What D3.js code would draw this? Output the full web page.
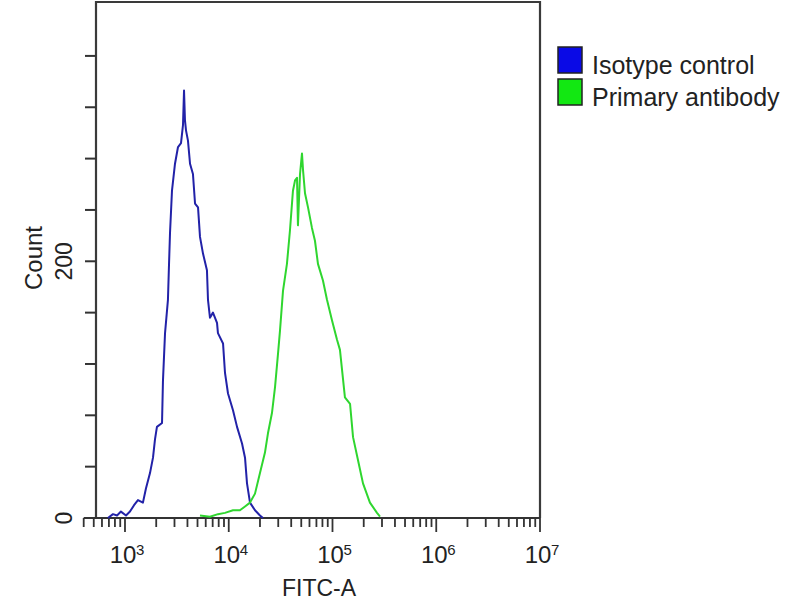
<!DOCTYPE html>
<html lang="en">
<head>
    <meta charset="utf-8" />
    <title>FITC-A histogram</title>
    <script src="https://d3js.org/d3.v7.min.js"></script>
    <style>
        body { margin: 0; background: #fff; }
        text { font-family: "Liberation Sans", Arial, sans-serif; fill: #222; }
    </style>
</head>
<body>
    <div id="graph"></div>
    <script>
        // series: FITC intensity / event count
        var isotypeFitc = [685, 766, 838, 914, 1023, 1117, 1222, 1334, 1489, 1592, 1742, 1862, 1945, 2032,
            2275, 2323, 2432, 2594, 2655, 2716, 2838, 3034, 3243, 3467, 3622, 3707, 3784, 3873, 4046,
            4236, 4519, 4732, 5058, 5284, 5649, 6166, 6310, 6592, 7047, 7709, 7870, 8810, 9204, 9840,
            10990, 12020, 13430, 14350, 15000, 16030, 17910, 20000, 21380];
        var isotypeCount = [0, 3, 2, 5, 2, 5, 10, 14, 12, 23, 35, 47, 61, 71,
            74, 107, 144, 170, 197, 222, 255, 276, 289, 292, 306, 333, 310, 302, 294,
            276, 268, 245, 242, 219, 206, 193, 170, 156, 160, 152, 144, 136, 113, 97,
            84, 71, 58, 47, 27, 12, 6, 2, 0];

        var primaryFitc = [5280, 6590, 7870, 9200, 10990, 12820, 14350, 16030, 17910, 20000, 22340,
            23880, 26120, 27930, 29850, 31190, 33340, 36390, 38900, 41590, 43550, 45500, 46450,
            48640, 50820, 52000, 54330, 58080, 63390, 67760, 72440, 80910, 88510, 98860, 110400,
            118000, 131800, 147600, 157800, 176200, 196800, 229600, 268500, 287100];
        var primaryCount = [2, 1, 3, 4, 6, 6, 9, 12, 19, 35, 51,
            66, 82, 102, 128, 146, 177, 198, 224, 255, 263, 265, 228,
            268, 284, 271, 253, 242, 226, 216, 198, 185, 170, 154, 139,
            131, 94, 89, 63, 45, 27, 12, 4, 1];

        var seriesNames = ["Isotype control", "Primary antibody"];
        var seriesColors = ["#2222a8", "#2fd62f"];
        var legendColors = ["#0a0ae6", "#12e812"];

        var decades = [3, 4, 5, 6, 7];
        var yTicks = [40, 80, 120, 160, 200, 240, 280, 320, 360];
        var yLabels = [0, 200];

        var width = 800, height = 600;
        var frameLeft = 96;
        var xMin = 400, xMax = 1e7, yMax = 402;

        var svg = d3.select("#graph").append("svg")
            .attr("width", width)
            .attr("height", height);

        var x = d3.scaleLog().domain([xMin, xMax]).range([83.7, 540]);
        var y = d3.scaleLinear().domain([0, yMax]).range([518, 2]);

        // frame
        svg.append("path")
            .attr("d", "M" + frameLeft + "," + y(0) + "V" + y(yMax) + "H" + x(xMax) + "V" + y(0))
            .attr("fill", "none")
            .attr("stroke", "#3a3a3a")
            .attr("stroke-width", 2.2);

        // x axis line (extends a little left of the frame)
        svg.append("line")
            .attr("x1", x(xMin)).attr("x2", x(xMax))
            .attr("y1", y(0)).attr("y2", y(0))
            .attr("stroke", "#333").attr("stroke-width", 2);

        // x ticks, log minor + major
        var xTickVals = [];
        for (var d = 2; d <= 6; d++) {
            for (var k = 1; k <= 9; k++) {
                var v = k * Math.pow(10, d);
                if (v >= xMin && v <= xMax) xTickVals.push(v);
            }
        }
        xTickVals.push(xMax);
        svg.selectAll(".xtick").data(xTickVals).enter()
            .append("line")
            .attr("class", "xtick")
            .attr("x1", function (v) { return x(v); })
            .attr("x2", function (v) { return x(v); })
            .attr("y1", y(0))
            .attr("y2", function (v) {
                var isMajor = Math.abs(Math.log10(v) - Math.round(Math.log10(v))) < 1e-9;
                return y(0) + (isMajor ? 14 : 9);
            })
            .attr("stroke", "#333").attr("stroke-width", 1.8);

        // decade labels
        var xl = svg.selectAll(".xlab").data(decades).enter().append("g").attr("class", "xlab");
        xl.append("text")
            .attr("x", function (e) { return x(Math.pow(10, e)) - 2; })
            .attr("y", 563)
            .attr("text-anchor", "middle")
            .attr("font-size", 24)
            .text("10");
        xl.append("text")
            .attr("x", function (e) { return x(Math.pow(10, e)) + 11; })
            .attr("y", 555)
            .attr("font-size", 15)
            .text(function (e) { return e; });

        svg.append("text")
            .attr("x", 319).attr("y", 596)
            .attr("text-anchor", "middle")
            .attr("font-size", 23)
            .text("FITC-A");

        // y ticks
        svg.selectAll(".ytick").data(yTicks).enter()
            .append("line")
            .attr("class", "ytick")
            .attr("x1", frameLeft - 11).attr("x2", frameLeft)
            .attr("y1", function (v) { return y(v); })
            .attr("y2", function (v) { return y(v); })
            .attr("stroke", "#333").attr("stroke-width", 2);

        svg.selectAll(".ylab").data(yLabels).enter()
            .append("text")
            .attr("class", "ylab")
            .attr("transform", function (v) { return "translate(72," + y(v) + ") rotate(-90)"; })
            .attr("text-anchor", "middle")
            .attr("font-size", 23)
            .text(function (v) { return v; });

        svg.append("text")
            .attr("transform", "translate(42,258) rotate(-90)")
            .attr("text-anchor", "middle")
            .attr("font-size", 24)
            .text("Count");

        // histograms
        var line = d3.line()
            .x(function (p) { return x(p[0]); })
            .y(function (p) { return y(p[1]); });

        var series = [d3.zip(isotypeFitc, isotypeCount), d3.zip(primaryFitc, primaryCount)];
        svg.selectAll(".hist").data(series).enter()
            .append("path")
            .attr("class", "hist")
            .attr("d", line)
            .attr("fill", "none")
            .attr("stroke", function (s, i) { return seriesColors[i]; })
            .attr("stroke-width", 2)
            .attr("stroke-linejoin", "round");

        // legend
        var lg = svg.selectAll(".leg").data(seriesNames).enter()
            .append("g").attr("class", "leg")
            .attr("transform", function (s, i) { return "translate(558," + (47 + i * 32) + ")"; });
        lg.append("rect")
            .attr("width", 24).attr("height", 26)
            .attr("fill", function (s, i) { return legendColors[i]; })
            .attr("stroke", "#222").attr("stroke-width", 1.5);
        lg.append("text")
            .attr("x", 34).attr("y", 27)
            .attr("font-size", 25)
            .text(function (s) { return s; });
    </script>
</body>
</html>
